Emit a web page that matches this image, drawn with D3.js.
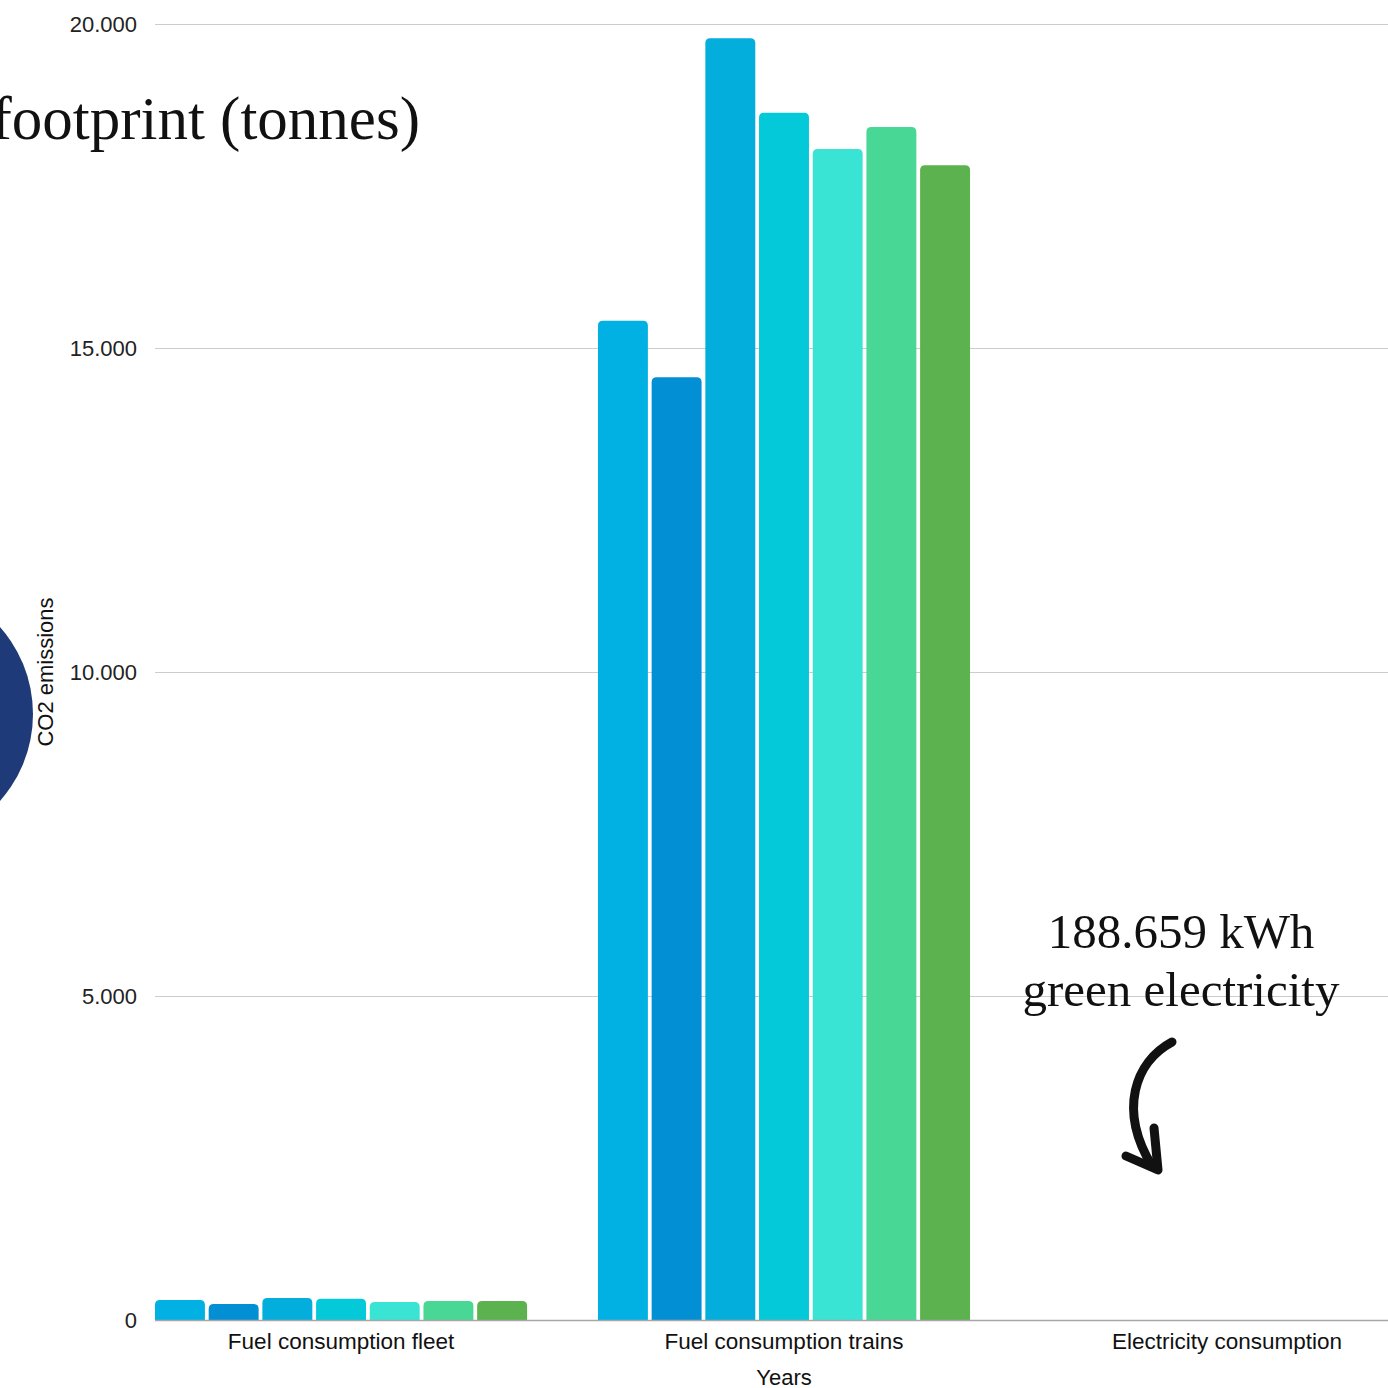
<!DOCTYPE HTML>
<html>
<head>
<meta charset="utf-8">
<title>CO2 footprint</title>
<script type="text/javascript" src="https://cdn.jsdelivr.net/npm/d3@7"></script>
<style>
body{
    margin:0;
    background:#fff;
}
svg text{
    font-family:"Liberation Sans", Arial, sans-serif;
}
.serif{
    font-family:"Liberation Serif", "DejaVu Serif", serif !important;
}
</style>
</head>
<body>
<svg id="chart" width="1388" height="1388"></svg>
<script>
// categories and series
var categories = ["Fuel consumption fleet", "Fuel consumption trains", "Electricity consumption"];
var years = ["2016", "2017", "2018", "2019", "2020", "2021", "2022"];
var colors = ["#02b1e4", "#028fd4", "#03addc", "#04c9d9", "#3ae4d4", "#48d795", "#5cb24f"];

// one array per year: [fleet, trains, electricity]
var v2016 = [309, 15420, 0];
var v2017 = [247, 14550, 0];
var v2018 = [340, 19780, 0];
var v2019 = [329, 18630, 0];
var v2020 = [278, 18070, 0];
var v2021 = [293, 18410, 0];
var v2022 = [293, 17820, 0];
var values = [v2016, v2017, v2018, v2019, v2020, v2021, v2022];

var yTicks = [0, 5000, 10000, 15000, 20000];

var svg = d3.select("#chart");
var plotLeft = 155, plotRight = 1413, plotTop = 24, plotBottom = 1320;

var x0 = d3.scaleBand().domain(categories).range([plotLeft, plotRight]).paddingInner(0.16).paddingOuter(0);
var x1 = d3.scaleBand().domain(years).range([0, x0.bandwidth()]).paddingInner(0.07);
var y = d3.scaleLinear().domain([0, 20000]).range([plotBottom, plotTop]);

var fmt = d3.formatLocale({decimal: ",", thousands: ".", grouping: [3], currency: ["", ""]}).format(",d");

// the navy circle at the left edge
svg.append("circle")
    .attr("cx", -98).attr("cy", 714).attr("r", 131)
    .style("fill", "#1f3a78");

// grid lines
svg.append("g").selectAll("line").data(yTicks.slice(1)).enter().append("line")
    .attr("x1", plotLeft).attr("x2", 1388)
    .attr("y1", function(d){ return y(d) + 0.5; })
    .attr("y2", function(d){ return y(d) + 0.5; })
    .style("stroke", "#cccccc").style("stroke-width", 1);

// y axis
var yAxis = d3.axisLeft(y).tickValues(yTicks).tickFormat(fmt).tickSize(0).tickPadding(18);
var gy = svg.append("g").attr("transform", "translate(" + plotLeft + ",0)").call(yAxis);
gy.select(".domain").remove();
gy.selectAll("text").style("font-size", "22px").style("fill", "#222")
    .style("font-family", "Liberation Sans, Arial, sans-serif");

function barPath(x, yTop, w, h, r){
    if (h <= 0) return "";
    r = Math.min(r, h, w / 2);
    return "M" + x + "," + (yTop + h) +
        "V" + (yTop + r) +
        "Q" + x + "," + yTop + " " + (x + r) + "," + yTop +
        "H" + (x + w - r) +
        "Q" + (x + w) + "," + yTop + " " + (x + w) + "," + (yTop + r) +
        "V" + (yTop + h) + "Z";
}

// bars
var groups = svg.append("g").selectAll("g").data(categories).enter().append("g")
    .attr("transform", function(d){ return "translate(" + x0(d) + ",0)"; });

groups.selectAll("path").data(function(c, ci){
        return years.map(function(yr, i){ return {year: yr, value: values[i][ci], color: colors[i]}; });
    }).enter().append("path")
    .attr("d", function(d){
        return barPath(x1(d.year), y(d.value), x1.bandwidth(), plotBottom - y(d.value), 5);
    })
    .style("fill", function(d){ return d.color; });

// baseline
svg.append("line")
    .attr("x1", plotLeft).attr("x2", 1388).attr("y1", plotBottom + 0.5).attr("y2", plotBottom + 0.5)
    .style("stroke", "#a6a6a6").style("stroke-width", 1.5);

// x axis labels
var xAxis = d3.axisBottom(x0).tickSize(0).tickPadding(13);
var gx = svg.append("g").attr("transform", "translate(0," + plotBottom + ")").call(xAxis);
gx.select(".domain").remove();
gx.selectAll("text").style("font-size", "22.5px").style("fill", "#111")
    .style("font-family", "Liberation Sans, Arial, sans-serif");

svg.append("text")
    .attr("x", x0(categories[1]) + x0.bandwidth() / 2).attr("y", 1385)
    .attr("text-anchor", "middle")
    .style("font-size", "22px").style("fill", "#111")
    .text("Years");

svg.append("text")
    .attr("transform", "translate(53,672) rotate(-90)")
    .attr("text-anchor", "middle")
    .style("font-size", "22px").style("fill", "#111")
    .text("CO2 emissions");

// title, cut off by the left edge
svg.append("text").attr("class", "serif")
    .attr("x", 420).attr("y", 139)
    .attr("text-anchor", "end")
    .style("font-size", "61px").style("fill", "#111")
    .text("CO2 footprint (tonnes)");

// annotation
svg.append("text").attr("class", "serif")
    .attr("x", 1181).attr("y", 948)
    .attr("text-anchor", "middle")
    .style("font-size", "49px").style("fill", "#111")
    .text("188.659 kWh");
svg.append("text").attr("class", "serif")
    .attr("x", 1181).attr("y", 1006)
    .attr("text-anchor", "middle")
    .style("font-size", "49px").style("fill", "#111")
    .text("green electricity");

// hand drawn arrow
svg.append("path")
    .attr("d", "M1172,1042 C1135,1062 1118,1110 1152,1166")
    .style("fill", "none").style("stroke", "#111").style("stroke-width", 9).style("stroke-linecap", "round");
svg.append("path")
    .attr("d", "M1126,1156 L1158,1170 L1154,1128")
    .style("fill", "none").style("stroke", "#111").style("stroke-width", 9)
    .style("stroke-linecap", "round").style("stroke-linejoin", "round");
</script>
</body>
</html>
